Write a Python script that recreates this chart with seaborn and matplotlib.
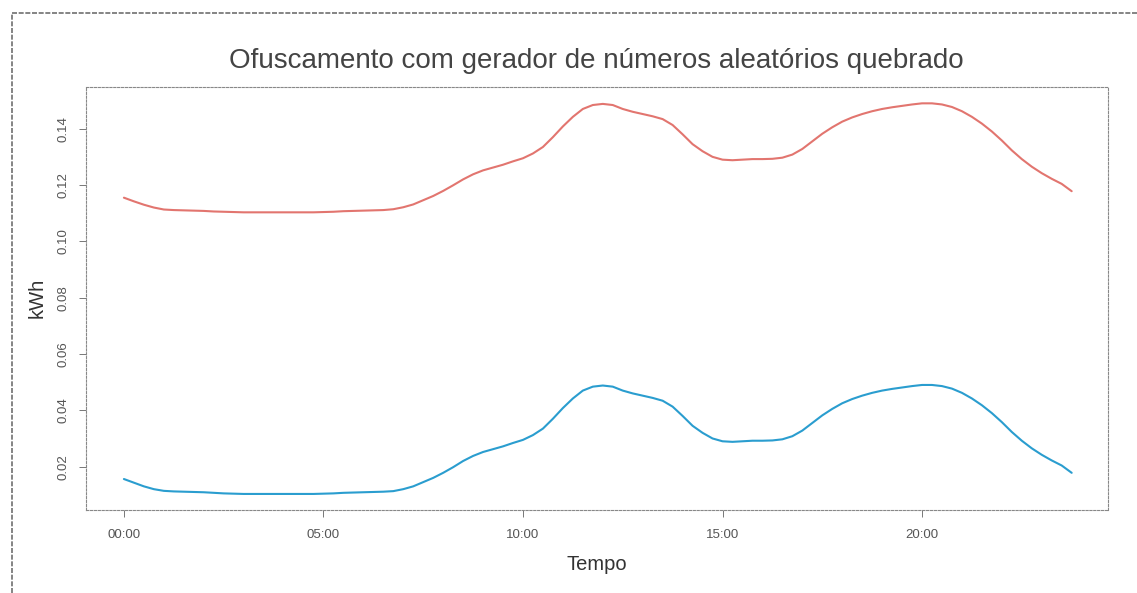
import numpy as np
import pandas as pd
import matplotlib
matplotlib.use("Agg")
import matplotlib.pyplot as plt
import seaborn as sns
from matplotlib.lines import Line2D

# ---- data, one value every 15 minutes ----
hours = [i * 0.25 for i in range(96)]

blue_kwh = [0.0156, 0.0143, 0.0130, 0.0120, 0.0114, 0.0112, 0.0111, 0.0110,
            0.0109, 0.0107, 0.0105, 0.0104, 0.0103, 0.0103, 0.0103, 0.0103,
            0.0103, 0.0103, 0.0103, 0.0103, 0.0104, 0.0105, 0.0107, 0.0108,
            0.0109, 0.0110, 0.0111, 0.0113, 0.0120, 0.0130, 0.0145, 0.0160,
            0.0178, 0.0198, 0.0220, 0.0238, 0.0252, 0.0262, 0.0272, 0.0284,
            0.0295, 0.0312, 0.0335, 0.0370, 0.0408, 0.0442, 0.0470, 0.0484,
            0.0488, 0.0484, 0.0470, 0.0460, 0.0452, 0.0444, 0.0434, 0.0413,
            0.0380, 0.0345, 0.0320, 0.0300, 0.0290, 0.0288, 0.0290, 0.0292,
            0.0292, 0.0293, 0.0297, 0.0308, 0.0328, 0.0355, 0.0382, 0.0405,
            0.0425, 0.0440, 0.0452, 0.0462, 0.0470, 0.0476, 0.0481, 0.0486,
            0.0490, 0.0490, 0.0486, 0.0477, 0.0462, 0.0442, 0.0418, 0.0390,
            0.0358, 0.0323, 0.0292, 0.0265, 0.0242, 0.0222, 0.0204, 0.0178]

red_kwh = [0.1155, 0.1142, 0.1130, 0.1120, 0.1113, 0.1111, 0.1110, 0.1109,
           0.1108, 0.1106, 0.1105, 0.1104, 0.1103, 0.1103, 0.1103, 0.1103,
           0.1103, 0.1103, 0.1103, 0.1103, 0.1104, 0.1105, 0.1107, 0.1108,
           0.1109, 0.1110, 0.1111, 0.1114, 0.1121, 0.1131, 0.1146, 0.1161,
           0.1179, 0.1199, 0.1220, 0.1238, 0.1252, 0.1262, 0.1272, 0.1284,
           0.1295, 0.1312, 0.1335, 0.1370, 0.1408, 0.1442, 0.1470, 0.1484,
           0.1488, 0.1484, 0.1470, 0.1460, 0.1452, 0.1444, 0.1434, 0.1413,
           0.1380, 0.1345, 0.1320, 0.1300, 0.1290, 0.1288, 0.1290, 0.1292,
           0.1292, 0.1293, 0.1297, 0.1308, 0.1328, 0.1355, 0.1382, 0.1405,
           0.1425, 0.1440, 0.1452, 0.1462, 0.1470, 0.1476, 0.1481, 0.1486,
           0.1490, 0.1490, 0.1486, 0.1477, 0.1462, 0.1442, 0.1418, 0.1390,
           0.1358, 0.1323, 0.1292, 0.1265, 0.1242, 0.1222, 0.1204, 0.1178]

tick_hours = [0, 5, 10, 15, 20]
tick_labels = ["00:00", "05:00", "10:00", "15:00", "20:00"]
y_ticks = [0.02, 0.04, 0.06, 0.08, 0.10, 0.12, 0.14]
y_tick_labels = ["0.02", "0.04", "0.06", "0.08", "0.10", "0.12", "0.14"]

title = "Ofuscamento com gerador de números aleatórios quebrado"

df = pd.DataFrame({
    "hora": hours * 2,
    "kWh": red_kwh + blue_kwh,
    "serie": ["vermelho"] * len(hours) + ["azul"] * len(hours),
})

sns.set_theme(style="white")
plt.rcParams["font.family"] = ["Liberation Sans", "DejaVu Sans"]

W, H = 1137, 593
fig = plt.figure(figsize=(W / 100, H / 100), dpi=100)
fig.patch.set_facecolor("white")
ax = fig.add_axes([86 / W, 1 - 510 / H, (1108 - 86) / W, (510 - 87) / H])

sns.lineplot(data=df, x="hora", y="kWh", hue="serie",
             palette={"vermelho": "#e2756f", "azul": "#2a9dcf"},
             linewidth=1.5, legend=False, ax=ax)

ax.set_xlim(-0.95, 24.66)
ax.set_ylim(0.0046, 0.1548)
ax.set_xticks(tick_hours)
ax.set_xticklabels(tick_labels, fontsize=9.5, color="#555555")
ax.set_yticks(y_ticks)
ax.set_yticklabels(y_tick_labels, fontsize=9.5, color="#555555", rotation=90, va="center")
ax.tick_params(axis="x", direction="out", length=5, width=0.7, color="#777777",
               bottom=True, pad=9)
ax.tick_params(axis="y", direction="out", length=5, width=0.7, color="#777777",
               left=True, pad=7)

for s in ax.spines.values():
    s.set_linestyle((0, (2, 1.5)))
    s.set_color("#888888")
    s.set_linewidth(0.8)

ax.set_xlabel("")
ax.set_ylabel("")
fig.text(597 / W, 1 - 565 / H, "Tempo", ha="center", va="center",
         fontsize=14.5, color="#333333")
fig.text(37 / W, 1 - 298 / H, "kWh", ha="center", va="center", rotation=90,
         fontsize=14.5, color="#333333")
fig.text(596 / W, 1 - 68 / H, title, ha="center", va="baseline",
         fontsize=20, color="#444444")

# outer frame: left and top edges (right/bottom fall outside the image)
frame_kw = dict(transform=fig.transFigure, color="#707070", linewidth=1.2,
                linestyle=(0, (3, 1)))
fig.lines.append(Line2D([12 / W, 12 / W], [0, 1 - 13 / H], **frame_kw))
fig.lines.append(Line2D([12 / W, 1], [1 - 13 / H, 1 - 13 / H], **frame_kw))

fig.savefig("out.png", dpi=100, facecolor="white")
